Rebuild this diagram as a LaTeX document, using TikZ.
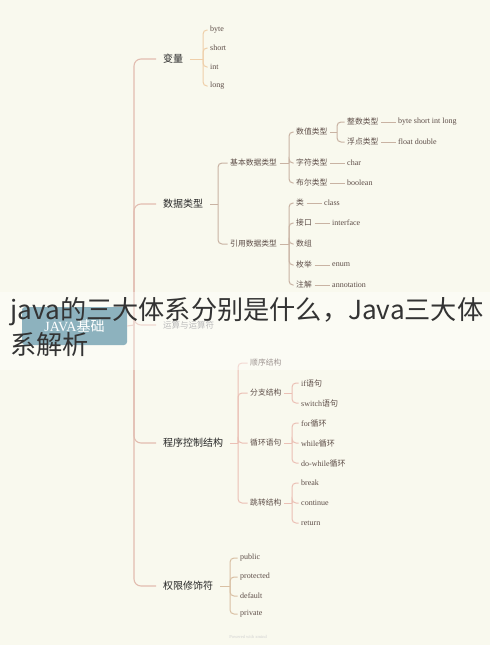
\documentclass[tikz,border=0pt]{standalone}
\usepackage{fontspec}
\setmainfont{Liberation Serif}
\newfontfamily\cjk{Noto Sans CJK SC}
\definecolor{bgcream}{HTML}{F9F9EE}
\definecolor{rootteal}{RGB}{65,128,147}
\definecolor{txtbrown}{HTML}{5E4E48}
\definecolor{trunkline}{HTML}{E2BDB0}
\definecolor{varline}{HTML}{EFCFA9}
\definecolor{dtypeline}{HTML}{C9B3A3}
\definecolor{ctrlline}{HTML}{EBC0B5}
\definecolor{permline}{HTML}{D9C0A3}

\begin{document}
\begin{tikzpicture}[x=1pt,y=-1pt]
\tikzset{every node/.style={anchor=west,inner ysep=1pt,inner xsep=2.5pt}}
\tikzset{mainnode/.style={inner xsep=7pt,font=\cjk\fontsize{10}{10}\selectfont,text=black!85}}
\tikzset{subnode/.style={font=\cjk\fontsize{7.8}{7.8}\selectfont,text=txtbrown}}
\tikzset{leaf/.style={font=\fontsize{8}{8}\selectfont,text=txtbrown}}
\tikzset{link/.style={line width=1pt,rounded corners=4pt}}

\fill[bgcream] (0,0) rectangle (490,645);
\useasboundingbox (0,0) rectangle (490,645);

% root and main branches
\node[fill=rootteal,rounded corners=3pt,minimum width=105pt,minimum height=38pt,anchor=center,
  text=white,font=\fontsize{14}{14}\selectfont] (root) at (74.5,326) {JAVA{\cjk 基础}};
\node[mainnode] (var) at (156,59) {变量};
\node[mainnode] (dtype) at (156,204) {数据类型};
\node[mainnode,font=\cjk\fontsize{8.5}{8.5}\selectfont,text=black!45] (ops) at (156,325) {运算与运算符};
\node[mainnode] (ctrl) at (156,443) {程序控制结构};
\node[mainnode] (perm) at (156,586) {权限修饰符};

\coordinate (trunk) at (134,325);
\draw[trunkline,line width=1.1pt] (root.east) -- (trunk);
\foreach \n in {var,dtype,ops,ctrl,perm}
  \draw[link,trunkline,line width=1.1pt,rounded corners=7pt] (trunk) |- (\n.west);

% variables
\foreach \t/\y in {byte/30,short/48,int/67,long/86}
  \node[leaf] (var-\t) at (207.5,\y) {\t};
\coordinate (var-j) at (203,59);
\draw[link,varline] (var.east) -- (var-j);
\foreach \t in {byte,short,int,long}
  \draw[link,varline] (var-j) |- (var-\t.west);

% data types
\node[subnode] (basic) at (227.5,163) {基本数据类型};
\node[subnode] (ref) at (227.5,244) {引用数据类型};
\coordinate (dtype-j) at (218,204);
\draw[link,dtypeline] (dtype.east) -- (dtype-j);
\foreach \n in {basic,ref}
  \draw[link,dtypeline] (dtype-j) |- (\n.west);

\node[subnode] (num) at (293.5,132) {数值类型};
\node[subnode] (chr) at (293.5,163) {字符类型};
\node[subnode] (bool) at (293.5,183) {布尔类型};
\coordinate (basic-j) at (289,163);
\draw[link,dtypeline] (basic.east) -- (basic-j);
\foreach \n in {num,chr,bool}
  \draw[link,dtypeline] (basic-j) |- (\n.west);

\node[subnode] (intt) at (344.5,122) {整数类型};
\node[subnode] (flt) at (344.5,142) {浮点类型};
\coordinate (num-j) at (337,132);
\draw[link,dtypeline] (num.east) -- (num-j);
\foreach \n in {intt,flt}
  \draw[link,dtypeline] (num-j) |- (\n.west);

\node[leaf] (intt-v) at (395.5,122) {byte short int long};
\node[leaf] (flt-v) at (395.5,142) {float double};
\node[leaf] (chr-v) at (344.5,163) {char};
\node[leaf] (bool-v) at (344.5,183) {boolean};
\foreach \n in {intt,flt,chr,bool}
  \draw[link,dtypeline] (\n.east) -- (\n-v.west);

\node[subnode] (cls) at (293.5,203) {类};
\node[subnode] (itf) at (293.5,223) {接口};
\node[subnode] (arr) at (293.5,244) {数组};
\node[subnode] (enm) at (293.5,265) {枚举};
\node[subnode] (ann) at (293.5,285) {注解};
\coordinate (ref-j) at (289,244);
\draw[link,dtypeline] (ref.east) -- (ref-j);
\foreach \n in {cls,itf,arr,enm,ann}
  \draw[link,dtypeline] (ref-j) |- (\n.west);

\node[leaf] (cls-v) at (321.5,203) {class};
\node[leaf] (itf-v) at (329.5,223) {interface};
\node[leaf] (enm-v) at (329.5,265) {enum};
\node[leaf] (ann-v) at (329.5,285) {annotation};
\foreach \n in {cls,itf,enm,ann}
  \draw[link,dtypeline] (\n.east) -- (\n-v.west);

% control flow
\node[subnode] (seq) at (247.5,363) {顺序结构};
\node[subnode] (br) at (247.5,393) {分支结构};
\node[subnode] (lp) at (247.5,443) {循环语句};
\node[subnode] (jmp) at (247.5,503) {跳转结构};
\coordinate (ctrl-j) at (238,443);
\draw[link,ctrlline] (ctrl.east) -- (ctrl-j);
\foreach \n in {seq,br,lp,jmp}
  \draw[link,ctrlline] (ctrl-j) |- (\n.west);

\node[leaf] (br-a) at (298.5,383) {if{\cjk 语句}};
\node[leaf] (br-b) at (298.5,403) {switch{\cjk 语句}};
\node[leaf] (lp-a) at (298.5,423) {for{\cjk 循环}};
\node[leaf] (lp-b) at (298.5,443) {while{\cjk 循环}};
\node[leaf] (lp-c) at (298.5,463) {do-while{\cjk 循环}};
\node[leaf] (jmp-a) at (298.5,483) {break};
\node[leaf] (jmp-b) at (298.5,503) {continue};
\node[leaf] (jmp-c) at (298.5,523) {return};
\foreach \n/\kids in {br/{a,b},lp/{a,b,c},jmp/{a,b,c}}{
  \coordinate (\n-j) at (292,0 |- \n.west);
  \draw[link,ctrlline] (\n.east) -- (\n-j);
  \foreach \k in \kids
    \draw[link,ctrlline] (\n-j) |- (\n-\k.west);
}

% access modifiers
\foreach \t/\y in {public/558,protected/577,default/596,private/614}
  \node[leaf] (perm-\t) at (237.5,\y) {\t};
\coordinate (perm-j) at (230,586);
\draw[link,permline] (perm.east) -- (perm-j);
\foreach \t in {public,protected,default,private}
  \draw[link,permline] (perm-j) |- (perm-\t.west);

\node[anchor=center,font=\fontsize{4.5}{4.5}\selectfont,text=black!18] (credit) at (248,637) {Powered with xmind};

% title band over the map
\fill[white,opacity=0.4] (0,292) rectangle (490,370);
\node[font=\cjk\fontsize{26.2}{35}\selectfont,text=black!80,align=left,anchor=north west,inner sep=0pt]
  (title) at (10,297) {java的三大体系分别是什么，Java三大体\\系解析};
\end{tikzpicture}
\end{document}
